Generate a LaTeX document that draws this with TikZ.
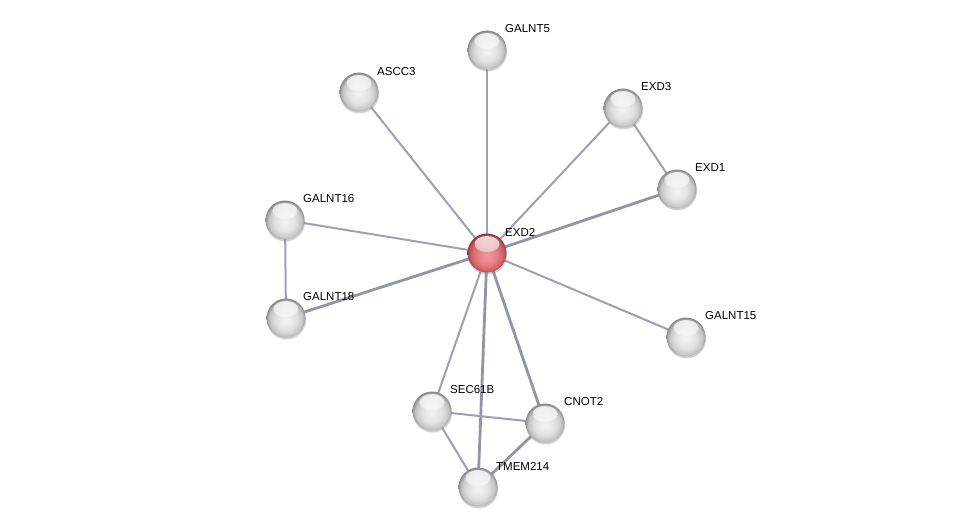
\documentclass[tikz,border=0pt]{standalone}
\usepackage{fontspec}
\setmainfont{Liberation Sans}
\usetikzlibrary{shadows,fadings}
\definecolor{edgec}{HTML}{9EA0B4}
\definecolor{edgedk}{HTML}{9294AA}
\definecolor{sga}{HTML}{F4F4F4}
\definecolor{sgb}{HTML}{E2E2E2}
\definecolor{sgc}{HTML}{C6C6C6}
\definecolor{sgd}{HTML}{8A8A8A}
\definecolor{sra}{HTML}{F2989C}
\definecolor{srb}{HTML}{E47E84}
\definecolor{src}{HTML}{CC5E64}
\definecolor{srd}{HTML}{963840}
\pgfdeclareradialshading{spheregray}{\pgfpoint{0bp}{-3bp}}{color(0bp)=(sga); color(13bp)=(sgb); color(21bp)=(sgc); color(26bp)=(sgd); color(50bp)=(sgd)}
\pgfdeclareradialshading{spherered}{\pgfpoint{0bp}{-3bp}}{color(0bp)=(sra); color(13bp)=(srb); color(21bp)=(src); color(26bp)=(srd); color(50bp)=(srd)}
\tikzset{
  prot/.style={circle, minimum size=39pt, inner sep=0pt, shading=spheregray,
    drop shadow={opacity=0.35, shadow xshift=0.5pt, shadow yshift=-2pt},
    path picture={\fill[white, opacity=0.85, path fading=south]
      ([yshift=9pt]path picture bounding box.center) ellipse (12.5pt and 8pt);}},
  seed/.style={prot, shading=spherered},
  lab/.style={anchor=west, font=\fontsize{11.5}{13}\selectfont, inner sep=0pt},
  edge/.style={draw=edgec, line width=2pt},
  edgethick/.style={draw=edgedk, line width=2.8pt}
}
\begin{document}
\begin{tikzpicture}[x=1pt,y=-1pt]
\useasboundingbox (0,0) rectangle (976,532);
\fill[white] (0,0) rectangle (976,532);
% coordinates
\coordinate (pEXD2) at (487,253);
\coordinate (pGALNT5) at (487,50);
\coordinate (pASCC3) at (359,92);
\coordinate (pEXD3) at (623,108);
\coordinate (pEXD1) at (677,189);
\coordinate (pGALNT16) at (285,220);
\coordinate (pGALNT18) at (286,318);
\coordinate (pGALNT15) at (686,337);
\coordinate (pSEC61B) at (432,411);
\coordinate (pCNOT2) at (545,423);
\coordinate (pTMEM214) at (478,487);
% edges
\draw[edge] (pEXD2) -- (pGALNT5);
\draw[edge] (pEXD2) -- (pASCC3);
\draw[edge] (pEXD2) -- (pEXD3);
\draw[edgethick] (pEXD2) -- (pEXD1);
\draw[edge] (pEXD2) -- (pGALNT16);
\draw[edgethick] (pEXD2) -- (pGALNT18);
\draw[edge] (pEXD2) -- (pGALNT15);
\draw[edge] (pEXD2) -- (pSEC61B);
\draw[edgethick] (pEXD2) -- (pCNOT2);
\draw[edgethick] (pEXD2) -- (pTMEM214);
\draw[edge] (pEXD3) -- (pEXD1);
\draw[edge] (pGALNT16) -- (pGALNT18);
\draw[edge] (pSEC61B) -- (pCNOT2);
\draw[edge] (pSEC61B) -- (pTMEM214);
\draw[edgethick] (pCNOT2) -- (pTMEM214);
% nodes
\node[seed] (EXD2) at (pEXD2) {};
\node[prot] (GALNT5) at (pGALNT5) {};
\node[prot] (ASCC3) at (pASCC3) {};
\node[prot] (EXD3) at (pEXD3) {};
\node[prot] (EXD1) at (pEXD1) {};
\node[prot] (GALNT16) at (pGALNT16) {};
\node[prot] (GALNT18) at (pGALNT18) {};
\node[prot] (GALNT15) at (pGALNT15) {};
\node[prot] (SEC61B) at (pSEC61B) {};
\node[prot] (CNOT2) at (pCNOT2) {};
\node[prot] (TMEM214) at (pTMEM214) {};
% labels
\node[lab] (lEXD2) at (505,232) {EXD2};
\node[lab] (lGALNT5) at (505,29) {GALNT5};
\node[lab] (lASCC3) at (377,72) {ASCC3};
\node[lab] (lEXD3) at (641,87) {EXD3};
\node[lab] (lEXD1) at (695,168) {EXD1};
\node[lab] (lGALNT16) at (303,199) {GALNT16};
\node[lab] (lGALNT18) at (303,297) {GALNT18};
\node[lab] (lGALNT15) at (705,316) {GALNT15};
\node[lab] (lSEC61B) at (450,390) {SEC61B};
\node[lab] (lCNOT2) at (564,402) {CNOT2};
\node[lab] (lTMEM214) at (496,466) {TMEM214};
\end{tikzpicture}
\end{document}
